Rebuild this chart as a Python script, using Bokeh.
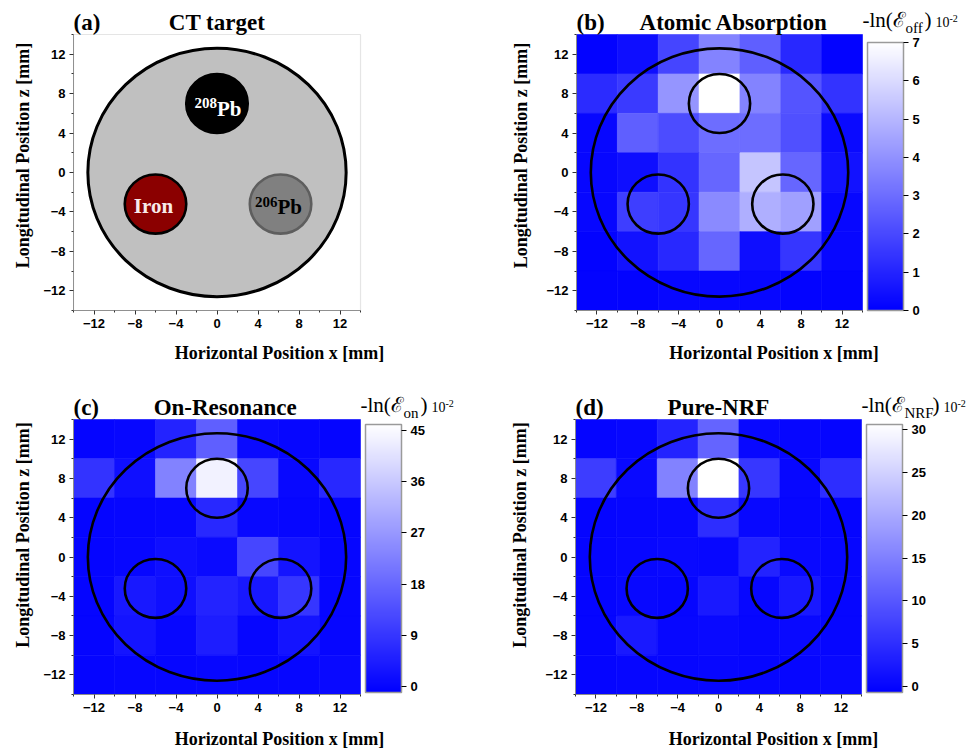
import numpy as np
from bokeh.plotting import figure
from bokeh.models import (Range1d, FixedTicker, ColumnDataSource, LinearColorMapper,
                          ColorBar, Label, BoxAnnotation)
from bokeh.layouts import row, column
from bokeh.embed import file_html
from bokeh.resources import INLINE

# ---------------- data ----------------
X_CENTERS = [-12, -8, -4, 0, 4, 8, 12]      # pixel centres along x [mm]
Z_CENTERS = [12, 8, 4, 0, -4, -8, -12]      # pixel centres along z [mm] (top row first)
CELL = 4
AXIS_MIN, AXIS_MAX = -14, 14
MAJOR_TICKS = [-12, -8, -4, 0, 4, 8, 12]
MINOR_TICKS = [-14, -10, -6, -2, 2, 6, 10, 14]

# -ln(E_off) x 1e-2
atomic_absorption = [
    [0.1, 0.4, 1.9, 3.6, 2.6, 1.1, 0.1],
    [1.2, 1.6, 4.1, 7.0, 3.6, 2.3, 1.4],
    [0.2, 2.6, 2.1, 3.0, 3.0, 2.2, 0.3],
    [0.2, 0.4, 1.4, 2.8, 5.4, 2.8, 0.5],
    [0.2, 1.7, 1.5, 3.8, 4.8, 4.4, 0.2],
    [0.1, 0.5, 1.1, 2.8, 0.4, 1.5, 0.2],
    [0.1, 0.1, 0.2, 0.2, 0.2, 0.1, 0.1],
]
# -ln(E_on) x 1e-2
on_resonance = [
    [0.0, 0.3, 5.6, 16.5, 1.0, 0.2, 0.0],
    [8.4, 1.8, 23.0, 43.5, 12.0, 0.5, 6.5],
    [0.0, 0.2, 0.3, 6.5, 0.5, 0.2, 0.0],
    [0.0, 0.3, 1.8, 1.0, 12.0, 2.7, 0.2],
    [0.0, 3.5, 1.8, 5.5, 3.5, 9.0, 0.2],
    [0.0, 2.7, 0.3, 4.5, 0.2, 2.7, 0.2],
    [0.0, 0.2, 0.2, 0.3, 0.2, 0.2, 0.8],
]
# -ln(E_NRF) x 1e-2
pure_nrf = [
    [0.0, 0.2, 3.7, 11.6, 0.3, 0.1, 0.0],
    [6.8, 0.5, 15.3, 30.5, 6.1, 0.2, 4.9],
    [0.0, 0.1, 0.2, 4.9, 0.3, 0.1, 0.0],
    [0.0, 0.2, 0.5, 0.2, 3.7, 0.5, 0.1],
    [0.0, 0.3, 0.1, 2.4, 0.2, 2.4, 0.1],
    [0.0, 2.4, 0.2, 0.5, 0.1, 0.5, 0.1],
    [0.0, 0.1, 0.1, 0.2, 0.1, 0.1, 0.3],
]

cbar_ticks_b = [0, 1, 2, 3, 4, 5, 6, 7]
cbar_ticks_c = [0, 9, 18, 27, 36, 45]
cbar_ticks_d = [0, 5, 10, 15, 20, 25, 30]
cbar_range_b = (0.0, 7.0)
cbar_range_c = (-1.0, 46.0)
cbar_range_d = (-0.7, 30.6)

target_radius = 12.6
insert_x = [0.0, -6.0, 6.2]
insert_z = [7.0, -3.2, -3.2]
insert_radius = 3.0
insert_fill = ["#000000", "#8b0000", "#808080"]
insert_line = ["#000000", "#000000", "#5e5e5e"]

# ---------------- style ----------------
SERIF = "Liberation Serif"
SANS = "Liberation Sans"
BLUE_WHITE = ["#%02x%02x%02x" % (int(round(255 * t)), int(round(255 * t)), 255)
              for t in np.linspace(0, 1, 256)]


def base_fig(width, height, left, bottom, data_w, data_h, ylab_standoff, xlab_standoff):
    """Frame fills the figure above/right of the axes; the data square
    (-14..14) occupies data_w x data_h pixels at its lower-left corner."""
    frame_w = width - left
    frame_h = height - bottom
    span = AXIS_MAX - AXIS_MIN
    x_end = AXIS_MIN + span * frame_w / data_w
    y_end = AXIS_MIN + span * frame_h / data_h
    p = figure(width=width, height=height,
               x_range=Range1d(AXIS_MIN, x_end), y_range=Range1d(AXIS_MIN, y_end),
               output_backend="svg", toolbar_location=None, title_location=None,
               min_border_left=left, min_border_right=0,
               min_border_top=0, min_border_bottom=bottom,
               x_axis_label="Horizontal Position x [mm]",
               y_axis_label="Longitudinal Position z [mm]")
    p.grid.visible = False
    p.outline_line_color = None
    p.background_fill_color = "white"
    p.border_fill_color = "white"
    for ax in (p.xaxis[0], p.yaxis[0]):
        ax.bounds = (AXIS_MIN, AXIS_MAX)
        ax.ticker = FixedTicker(ticks=MAJOR_TICKS, minor_ticks=MINOR_TICKS)
        ax.major_label_text_font = SANS
        ax.major_label_text_font_style = "bold"
        ax.major_label_text_font_size = "13px"
        ax.major_label_text_color = "black"
        ax.axis_label_text_font = SERIF
        ax.axis_label_text_font_style = "bold"
        ax.axis_label_text_font_size = "18px"
        ax.axis_label_text_color = "black"
        ax.axis_line_color = "#8c8c8c"
        ax.major_tick_in = 0
        ax.major_tick_out = 4
        ax.minor_tick_in = 0
        ax.minor_tick_out = 2
        ax.major_tick_line_color = "#333333"
        ax.minor_tick_line_color = "#333333"
        ax.major_label_standoff = 4
    p.xaxis[0].axis_label_standoff = xlab_standoff
    p.yaxis[0].axis_label_standoff = ylab_standoff
    return p


def screen_label(p, sx, sy, txt, size, bold=False, align="left", color="black"):
    p.add_layout(Label(x=sx, y=sy, x_units="screen", y_units="screen", text=txt,
                       text_font=SERIF, text_font_style="bold" if bold else "normal",
                       text_font_size=size, text_baseline="middle", text_align=align,
                       text_color=color))


def add_titles(p, tag, title, title_x, data_w, data_h):
    sx_title = (title_x - AXIS_MIN) * data_w / (AXIS_MAX - AXIS_MIN)
    screen_label(p, 0, data_h + 12, tag, "23px", bold=True)
    screen_label(p, sx_title, data_h + 12, title, "23px", bold=True, align="center")


def add_cbar_title(p, sx0, data_h, sub, sub_w):
    pieces = [
        ("-ln(", 0, 15, "21px"),
        ("\u2130", 30, 15, "21px"),
        (sub, 43, 7, "15px"),
        (")", 43 + sub_w, 15, "21px"),
        ("10", 43 + sub_w + 11, 13, "14px"),
        ("-2", 43 + sub_w + 25, 16, "10px"),
    ]
    for txt, dx, dy, size in pieces:
        screen_label(p, sx0 + dx, data_h + dy, txt, size)


def add_circles(p):
    p.ellipse(x=0, y=0, width=2 * target_radius, height=2 * target_radius,
              fill_color=None, line_color="black", line_width=2.6)
    p.ellipse(x=insert_x, y=insert_z, width=2 * insert_radius, height=2 * insert_radius,
              fill_color=None, line_color="black", line_width=2.6)


def heat_fig(values, rng, ticks, width, height, left, bottom, data_w, data_h,
             tag, title, title_x, sub, sub_w, cb_y, ylab_standoff, xlab_standoff):
    p = base_fig(width, height, left, bottom, data_w, data_h, ylab_standoff, xlab_standoff)
    xs = [x for _ in Z_CENTERS for x in X_CENTERS]
    zs = [z for z in Z_CENTERS for _ in X_CENTERS]
    vs = [v for r in values for v in r]
    mapper = LinearColorMapper(palette=BLUE_WHITE, low=rng[0], high=rng[1])
    src = ColumnDataSource(dict(x=xs, z=zs, v=vs))
    p.rect(x="x", y="z", width=CELL, height=CELL, source=src,
           fill_color={"field": "v", "transform": mapper},
           line_color={"field": "v", "transform": mapper}, line_width=0.6)
    add_circles(p)
    cb = ColorBar(color_mapper=mapper, ticker=FixedTicker(ticks=ticks),
                  width=36, height=268, location=(data_w + 5, cb_y), padding=0, margin=0,
                  major_tick_out=5, major_tick_in=0, major_tick_line_color="black",
                  major_tick_line_width=1, minor_tick_line_color=None,
                  label_standoff=4,
                  major_label_text_font=SANS, major_label_text_font_style="bold",
                  major_label_text_font_size="13px", major_label_text_color="black",
                  bar_line_color="#9a9a9a", bar_line_width=1.5,
                  border_line_color=None, background_fill_color=None)
    p.add_layout(cb, "center")
    add_titles(p, tag, title, title_x, data_w, data_h)
    add_cbar_title(p, data_w, data_h, sub, sub_w)
    return p


# ---------------- panel (a) ----------------
pa = base_fig(485, 375, 73, 65, 287, 276, 7, 12)
pa.add_layout(BoxAnnotation(left=AXIS_MIN, right=AXIS_MAX, bottom=AXIS_MIN, top=AXIS_MAX,
                            fill_alpha=0, line_color="#a8a8a8", line_width=1.2))
pa.ellipse(x=0, y=0, width=2 * target_radius, height=2 * target_radius,
           fill_color="#c0c0c0", line_color="black", line_width=3)
pa.ellipse(x=insert_x, y=insert_z, width=2 * insert_radius, height=2 * insert_radius,
           fill_color=insert_fill, line_color=insert_line, line_width=2.6)
for txt, x, y, align, size, col in [
    ("208", 0.0, 7.1, "right", "15px", "white"),
    ("Pb", 0.0, 6.45, "left", "21px", "white"),
    ("Iron", -6.2, -3.4, "center", "21px", "#f8eaea"),
    ("206", 5.9, -2.95, "right", "15px", "black"),
    ("Pb", 5.9, -3.45, "left", "21px", "black"),
]:
    pa.add_layout(Label(x=x, y=y, text=txt, text_font=SERIF, text_font_style="bold",
                        text_font_size=size, text_align=align, text_baseline="middle",
                        text_color=col))
add_titles(pa, "(a)", "CT target", 0, 287, 276)

# ---------------- panels (b)-(d) ----------------
pb = heat_fig(atomic_absorption, cbar_range_b, cbar_ticks_b, 486, 375, 91, 65, 286, 276,
              "(b)", "Atomic Absorption", 1.4, "off", 19, 0, 12, 12)
pc = heat_fig(on_resonance, cbar_range_c, cbar_ticks_c, 485, 376, 73, 57, 287, 275,
              "(c)", "On-Resonance", 0.8, "on", 17, 2, 7, 14)
pd_ = heat_fig(pure_nrf, cbar_range_d, cbar_ticks_d, 486, 376, 90, 57, 286, 275,
               "(d)", "Pure-NRF", 0, "NRF", 28, 2, 12, 14)

layout = column(row(pa, pb), row(pc, pd_))
open("out.html", "w").write(file_html(layout, INLINE))
